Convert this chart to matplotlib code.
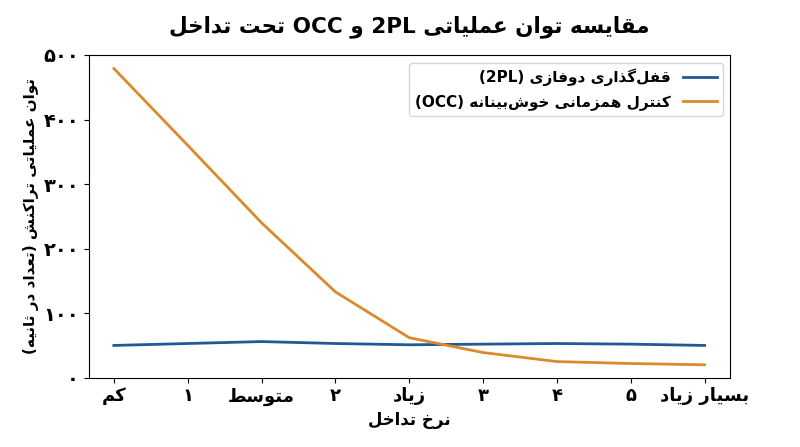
import re
import matplotlib
matplotlib.use("Agg")
import matplotlib.pyplot as plt

# data
levels = ["کم", "۱", "متوسط", "۲", "زیاد", "۳", "۴", "۵", "بسیار زیاد"]
tpl_2pl = [50, 53, 56, 53, 51, 52, 53, 52, 50]
tpl_occ = [479, 360, 240, 133, 62, 39, 25, 22, 20]
y_ticks = [0, 100, 200, 300, 400, 500]
y_tick_labels = ["۰", "۱۰۰", "۲۰۰", "۳۰۰", "۴۰۰", "۵۰۰"]

title = "مقایسه توان عملیاتی 2PL و OCC تحت تداخل"
x_label = "نرخ تداخل"
y_label = "توان عملیاتی تراکنش (تعداد در ثانیه)"
name_2pl = "قفل\u200cگذاری دوفازی (2PL)"
name_occ = "کنترل همزمانی خوش\u200cبینانه (OCC)"

# minimal persian shaping (matplotlib has no text shaping)
# letter: (isolated, final, initial, medial); 2-tuples join only to the right
FORMS = {
    "ا": (0xFE8D, 0xFE8E), "آ": (0xFE81, 0xFE82),
    "ب": (0xFE8F, 0xFE90, 0xFE91, 0xFE92), "پ": (0xFB56, 0xFB57, 0xFB58, 0xFB59),
    "ت": (0xFE95, 0xFE96, 0xFE97, 0xFE98), "ث": (0xFE99, 0xFE9A, 0xFE9B, 0xFE9C),
    "ج": (0xFE9D, 0xFE9E, 0xFE9F, 0xFEA0), "چ": (0xFB7A, 0xFB7B, 0xFB7C, 0xFB7D),
    "ح": (0xFEA1, 0xFEA2, 0xFEA3, 0xFEA4), "خ": (0xFEA5, 0xFEA6, 0xFEA7, 0xFEA8),
    "د": (0xFEA9, 0xFEAA), "ذ": (0xFEAB, 0xFEAC), "ر": (0xFEAD, 0xFEAE),
    "ز": (0xFEAF, 0xFEB0), "ژ": (0xFB8A, 0xFB8B),
    "س": (0xFEB1, 0xFEB2, 0xFEB3, 0xFEB4), "ش": (0xFEB5, 0xFEB6, 0xFEB7, 0xFEB8),
    "ص": (0xFEB9, 0xFEBA, 0xFEBB, 0xFEBC), "ض": (0xFEBD, 0xFEBE, 0xFEBF, 0xFEC0),
    "ط": (0xFEC1, 0xFEC2, 0xFEC3, 0xFEC4), "ظ": (0xFEC5, 0xFEC6, 0xFEC7, 0xFEC8),
    "ع": (0xFEC9, 0xFECA, 0xFECB, 0xFECC), "غ": (0xFECD, 0xFECE, 0xFECF, 0xFED0),
    "ف": (0xFED1, 0xFED2, 0xFED3, 0xFED4), "ق": (0xFED5, 0xFED6, 0xFED7, 0xFED8),
    "ک": (0xFB8E, 0xFB8F, 0xFB90, 0xFB91), "گ": (0xFB92, 0xFB93, 0xFB94, 0xFB95),
    "ل": (0xFEDD, 0xFEDE, 0xFEDF, 0xFEE0), "م": (0xFEE1, 0xFEE2, 0xFEE3, 0xFEE4),
    "ن": (0xFEE5, 0xFEE6, 0xFEE7, 0xFEE8), "و": (0xFEED, 0xFEEE),
    "ه": (0xFEE9, 0xFEEA, 0xFEEB, 0xFEEC), "ی": (0xFBFC, 0xFBFD, 0xFBFE, 0xFBFF),
}


def shape(word):
    out = []
    n = len(word)
    for i, ch in enumerate(word):
        if ch not in FORMS:
            out.append(ch)
            continue
        f = FORMS[ch]
        prev = word[i - 1] if i > 0 else ""
        nxt = word[i + 1] if i < n - 1 else ""
        j_prev = prev in FORMS and len(FORMS[prev]) == 4
        j_next = len(f) == 4 and nxt in FORMS
        if j_prev and j_next:
            out.append(chr(f[3]))
        elif j_prev:
            out.append(chr(f[1]))
        elif j_next:
            out.append(chr(f[2]))
        else:
            out.append(chr(f[0]))
    return "".join(out).replace("\u200c", "")


def fa(text):
    s = shape(text)[::-1]
    s = s.translate(str.maketrans("()", ")("))
    return re.sub(r"[A-Za-z0-9\u06F0-\u06F9]+", lambda m: m.group(0)[::-1], s)


plt.rcParams["font.family"] = ["DejaVu Sans"]
plt.rcParams["font.weight"] = "bold"

fig = plt.figure(figsize=(8, 4.47), dpi=100)
ax = fig.add_axes([0.111, 0.155, 0.802, 0.722])

x = range(len(levels))
ax.plot(x, tpl_2pl, color="#1f5a91", linewidth=2, label=fa(name_2pl))
ax.plot(x, tpl_occ, color="#d98a2a", linewidth=2, label=fa(name_occ))

ax.set_xlim(-0.34, 8.35)
ax.set_ylim(0, 500)
ax.set_xticks(list(x))
ax.set_xticklabels([fa(t) for t in levels], fontsize=13, fontweight="bold")
ax.set_yticks(y_ticks)
ax.set_yticklabels(y_tick_labels, fontsize=14, fontweight="bold")
ax.set_xlabel(fa(x_label), fontsize=12, fontweight="bold", labelpad=4)
ax.set_ylabel(fa(y_label), fontsize=11, fontweight="bold", labelpad=3)
ax.set_title(fa(title), fontsize=15.5, fontweight="bold", pad=16)
ax.legend(loc="upper right", fontsize=11, handlelength=2.2, markerfirst=False)

fig.savefig("out.png", dpi=100)
